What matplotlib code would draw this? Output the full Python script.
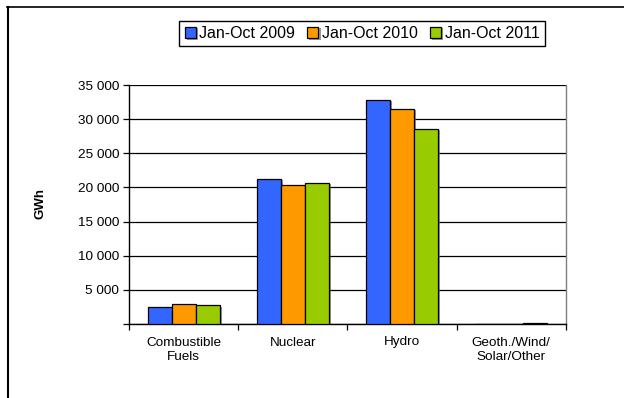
import matplotlib
matplotlib.use("Agg")
import matplotlib.pyplot as plt
import numpy as np
from matplotlib.lines import Line2D
from matplotlib.ticker import FuncFormatter
import matplotlib.patheffects as pe

categories = ["Combustible\nFuels", "Nuclear", "Hydro", "Geoth./Wind/\nSolar/Other"]
series_names = ["Jan-Oct 2009", "Jan-Oct 2010", "Jan-Oct 2011"]
v2009 = [2450, 21300, 32850, 20]
v2010 = [2880, 20350, 31550, 30]
v2011 = [2740, 20700, 28600, 150]
colors = ["#3366FF", "#FF9900", "#99CC00"]
yticks = [0, 5000, 10000, 15000, 20000, 25000, 30000, 35000]

plt.rcParams['font.family'] = ['Liberation Sans', 'DejaVu Sans']

fig = plt.figure(figsize=(6.24, 3.98), dpi=100)
W, H = 624, 398
ax = fig.add_axes([129 / W, 1 - 324 / H, (565.7 - 129) / W, (324 - 85) / H])

x = np.arange(len(categories))
bw = 0.22
shadow = [pe.SimplePatchShadow(offset=(1.5, -1.0), shadow_rgbFace='#555555', alpha=0.6), pe.Normal()]
for i, (vals, name, c) in enumerate(zip([v2009, v2010, v2011], series_names, colors)):
    bars = ax.bar(x + (i - 1) * bw, vals, width=bw, color=c, edgecolor='black',
                  linewidth=0.9, label=name, zorder=3)
    for b in bars:
        b.set_path_effects(shadow)

ax.set_xlim(-0.5, len(categories) - 0.5)
ax.set_ylim(0, 35000)
ax.set_yticks(yticks)
ax.yaxis.set_major_formatter(FuncFormatter(lambda v, p: "" if v == 0 else f"{int(v):,}".replace(",", " ")))
ax.grid(axis='y', color='black', linewidth=0.9, zorder=0)
ax.set_axisbelow(True)

ax.set_xticks(x)
ax.set_xticklabels(categories, fontsize=9.7, linespacing=1.3)
ax.tick_params(axis='x', length=0, pad=9)
ax.set_xticks(np.arange(-0.5, len(categories)), minor=True)
ax.tick_params(axis='x', which='minor', length=4, width=0.9, direction='out')
ax.tick_params(axis='y', length=4, width=0.9, direction='out', labelsize=9.7, pad=3)

for s in ['left', 'bottom']:
    ax.spines[s].set_color('black')
    ax.spines[s].set_linewidth(1.0)
ax.spines['right'].set_color('#808080')
ax.spines['right'].set_linewidth(1.0)
ax.spines['top'].set_visible(False)

fig.text(41 / W, 1 - 203 / H, "GWh", rotation=90, fontsize=9.5, fontweight='bold',
         ha='center', va='center')

leg = fig.legend(loc='center', bbox_to_anchor=(362 / W, 1 - 33.7 / H), ncol=3, fontsize=11.5,
                 frameon=True, fancybox=False, edgecolor='black', framealpha=1,
                 handlelength=0.7, handleheight=0.75, handletextpad=0.22, columnspacing=0.75,
                 borderpad=0.33, borderaxespad=0)
leg.get_frame().set_linewidth(1.0)

fig.add_artist(Line2D([7 / W, 1], [1 - 6.5 / H, 1 - 6.5 / H], color='black', linewidth=1.2, transform=fig.transFigure))
fig.add_artist(Line2D([7.5 / W, 7.5 / W], [0, 1 - 6.5 / H], color='black', linewidth=1.5, transform=fig.transFigure))

fig.savefig("out.png", dpi=100)
